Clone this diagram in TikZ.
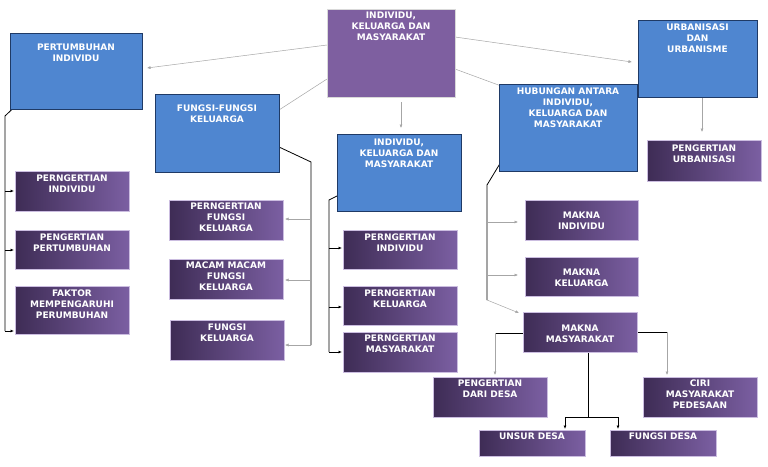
\documentclass[tikz,border=0pt]{standalone}
\usepackage{fontspec}
\setmainfont{DejaVu Sans}
\usetikzlibrary{arrows.meta}
\definecolor{bl}{HTML}{4F86D0}
\definecolor{blb}{HTML}{1F3A66}
\definecolor{mp}{HTML}{7E5FA0}
\definecolor{dk}{HTML}{3E2C55}
\definecolor{lt}{HTML}{7B5FA2}
\definecolor{bd}{HTML}{CBBDE0}
\tikzset{
  blue/.style={fill=bl,draw=blb,line width=0.8pt},
  main/.style={fill=mp,draw=white!70!gray,line width=1pt},
  dark/.style={left color=dk,right color=lt,draw=bd,line width=0.8pt},
  txt/.style={text=white,font=\bfseries\fontsize{9}{11}\selectfont,align=center,anchor=north,inner sep=0pt},
  gl/.style={draw=gray!70,line width=0.5pt},
  bk/.style={draw=black,line width=0.8pt},
  arr/.style={-{Latex[length=3.5pt,width=3pt]}}
}
% \bx{name}{style}{x1}{y1}{x2}{y2}{text offset}{text}
\newcommand{\bx}[8]{%
  \path[#2] (#3,#4) rectangle (#5,#6);
  \coordinate (#1-sw) at (#3,#6); \coordinate (#1-ne) at (#5,#4);
  \begin{scope}
    \clip (#3,#4) rectangle (#5,#6);
    \node[txt] (#1) at ({(#3+#5)/2},{#4+#7}) {#8};
  \end{scope}}
\begin{document}
\begin{tikzpicture}[x=1pt,y=-1pt]
\useasboundingbox[fill=white] (0,0) rectangle (768,466);
% connectors
\draw[gl,arr] (327,45) -- (147,68);
\draw[gl] (327,79) -- (279,110);
\draw[gl,arr] (455,37) -- (632,62);
\draw[gl,arr] (455,69) -- (512,90);
\draw[gl,arr] (401,102) -- (401,128);
\draw[gl,arr] (702,97) -- (702,132);
\draw[bk] (25,97) -- (5,116) -- (5,331);
\foreach \y in {191,250,331} \draw[bk,arr] (5,\y) -- (14,\y);
\draw[bk] (279,147) -- (311,162) -- (311,345);
\foreach \y in {219,280,345} \draw[gl,arr] (311,\y) -- (285,\y);
\draw[bk] (343,193) -- (329,200) -- (329,352);
\foreach \y in {248,307,352} \draw[bk,arr] (329,\y) -- (342,\y);
\draw[bk] (507,152) -- (487,185) -- (487,300);
\draw[gl,arr] (487,300) -- (519,313);
\foreach \y in {222,275} \draw[gl,arr] (487,\y) -- (518,\y);
\draw[bk] (523,333) -- (495,333);
\draw[gl,arr] (495,333) -- (495,375);
\draw[bk] (637,332) -- (667,332);
\draw[gl,arr] (667,332) -- (667,375);
\draw[bk] (588,352) -- (588,417);
\draw[bk,arr] (588,417) -- (565,417) -- (565,429);
\draw[bk,arr] (588,417) -- (618,417) -- (618,429);
% big boxes
\bx{m}{main}{327}{9}{455}{97}{3}{INDIVIDU,\\KELUARGA DAN\\MASYARAKAT}
\bx{pt}{blue}{10}{33}{142}{109}{11}{PERTUMBUHAN\\INDIVIDU}
\bx{ff}{blue}{155}{94}{279}{172}{11}{FUNGSI-FUNGSI\\KELUARGA}
\bx{ik}{blue}{337}{134}{461}{211}{5}{INDIVIDU,\\KELUARGA DAN\\MASYARAKAT}
\bx{hb}{blue}{499}{84}{637}{171}{4}{HUBUNGAN ANTARA\\INDIVIDU,\\KELUARGA DAN\\MASYARAKAT}
\bx{ub}{blue}{638}{20}{757}{97}{4}{URBANISASI\\DAN\\URBANISME}
% small boxes
\bx{pu}{dark}{647}{140}{761}{181}{5}{PENGERTIAN\\URBANISASI}
\bx{a1}{dark}{15}{171}{129}{211}{4}{PERNGERTIAN\\INDIVIDU}
\bx{a2}{dark}{15}{230}{129}{269}{4}{PENGERTIAN\\PERTUMBUHAN}
\bx{a3}{dark}{15}{286}{129}{334}{4}{FAKTOR\\MEMPENGARUHI\\PERUMBUHAN}
\bx{b1}{dark}{169}{200}{283}{240}{3}{PERNGERTIAN\\FUNGSI\\KELUARGA}
\bx{b2}{dark}{169}{259}{283}{299}{3}{MACAM MACAM\\FUNGSI\\KELUARGA}
\bx{b3}{dark}{170}{320}{284}{360}{4}{FUNGSI\\KELUARGA}
\bx{c1}{dark}{343}{230}{457}{269}{4}{PERNGERTIAN\\INDIVIDU}
\bx{c2}{dark}{343}{286}{457}{325}{4}{PERNGERTIAN\\KELUARGA}
\bx{c3}{dark}{343}{332}{457}{372}{3}{PERNGERTIAN\\MASYARAKAT}
\bx{d1}{dark}{525}{200}{638}{240}{12}{MAKNA\\INDIVIDU}
\bx{d2}{dark}{525}{257}{638}{296}{12}{MAKNA\\KELUARGA}
\bx{d3}{dark}{523}{312}{637}{352}{13}{MAKNA\\MASYARAKAT}
\bx{e1}{dark}{433}{377}{547}{417}{3}{PENGERTIAN\\DARI DESA}
\bx{e2}{dark}{643}{377}{757}{417}{3}{CIRI\\MASYARAKAT\\PEDESAAN}
\bx{e3}{dark}{479}{430}{585}{456}{3}{UNSUR DESA}
\bx{e4}{dark}{610}{430}{716}{456}{3}{FUNGSI DESA}
\end{tikzpicture}
\end{document}
